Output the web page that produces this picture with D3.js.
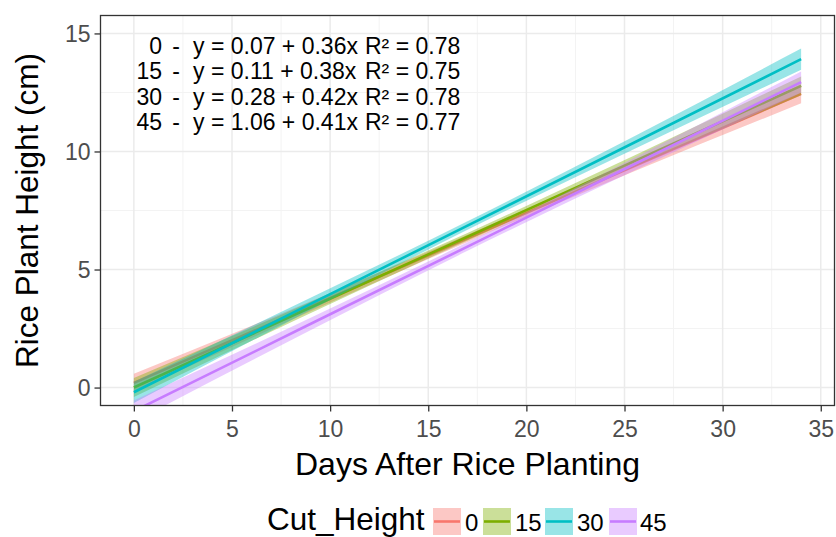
<!DOCTYPE html>
<html>
<head>
<meta charset="utf-8">
<script src="https://cdn.jsdelivr.net/npm/d3@7"></script>
<style>
  html, body { margin: 0; padding: 0; background: #fff; }
  svg { display: block; font-family: "Liberation Sans", Arial, Helvetica, sans-serif; }
</style>
</head>
<body>
<svg id="chart" width="836" height="537"></svg>
<script>
// ---- data ----
const cutHeights = ["0", "15", "30", "45"];
const seriesColors = ["#F8766D", "#7CAE00", "#00BFC4", "#C77CFF"];
const xKnots = [0, 8.5, 17, 25.5, 34];

const fit_0   = [0.20, 3.26, 6.32, 9.38, 12.44];
const lower_0 = [-0.18, 3.04, 6.17, 9.16, 12.04];
const upper_0 = [0.58, 3.48, 6.47, 9.60, 12.84];

const fit_15   = [0.00, 3.20, 6.39, 9.59, 12.78];
const lower_15 = [-0.40, 2.96, 6.23, 9.35, 12.38];
const upper_15 = [0.40, 3.44, 6.55, 9.83, 13.18];

const fit_30   = [-0.20, 3.33, 6.86, 10.38, 13.91];
const lower_30 = [-0.65, 3.06, 6.68, 10.11, 13.46];
const upper_30 = [0.25, 3.60, 7.04, 10.65, 14.36];

const fit_45   = [-1.00, 2.49, 5.97, 9.46, 12.94];
const lower_45 = [-1.45, 2.22, 5.79, 9.19, 12.49];
const upper_45 = [-0.55, 2.76, 6.15, 9.73, 13.39];

const xTicks = [0, 5, 10, 15, 20, 25, 30, 35];
const yTicks = [0, 5, 10, 15];
const xMinor = [2.5, 7.5, 12.5, 17.5, 22.5, 27.5, 32.5];
const yMinor = [2.5, 7.5, 12.5];

const eqGroups = ["0", "15", "30", "45"];
const eqTexts = ["y = 0.07 + 0.36x", "y = 0.11 + 0.38x", "y = 0.28 + 0.42x", "y = 1.06 + 0.41x"];
const r2Texts = ["R\u00B2 = 0.78", "R\u00B2 = 0.75", "R\u00B2 = 0.78", "R\u00B2 = 0.77"];

const xTitle = "Days After Rice Planting";
const yTitle = "Rice Plant Height (cm)";
const legendTitle = "Cut_Height";

// ---- build ----
const fits = [fit_0, fit_15, fit_30, fit_45];
const lowers = [lower_0, lower_15, lower_30, lower_45];
const uppers = [upper_0, upper_15, upper_30, upper_45];
const series = cutHeights.map((c, i) => ({
  key: c, color: seriesColors[i],
  pts: xKnots.map((x, j) => ({ x, y: fits[i][j], lo: lowers[i][j], hi: uppers[i][j] }))
}));

const svg = d3.select("#chart");
const L = 100.5, R = 834.5, T = 15.5, B = 405.5;
const x = d3.scaleLinear().domain([-1.7, 35.7]).range([L, R]);
const y = d3.scaleLinear().domain([-0.76, 15.76]).range([B, T]);

svg.append("defs").append("clipPath").attr("id", "clip")
  .append("rect").attr("x", L).attr("y", T).attr("width", R - L).attr("height", B - T);

// grid
const grid = svg.append("g");
grid.selectAll(".xm").data(xMinor).join("line")
  .attr("x1", d => x(d)).attr("x2", d => x(d)).attr("y1", T).attr("y2", B)
  .attr("stroke", "#F3F3F3").attr("stroke-width", 1);
grid.selectAll(".ym").data(yMinor).join("line")
  .attr("y1", d => y(d)).attr("y2", d => y(d)).attr("x1", L).attr("x2", R)
  .attr("stroke", "#F3F3F3").attr("stroke-width", 1);
grid.selectAll(".xM").data(xTicks).join("line")
  .attr("x1", d => x(d)).attr("x2", d => x(d)).attr("y1", T).attr("y2", B)
  .attr("stroke", "#EBEBEB").attr("stroke-width", 1.5);
grid.selectAll(".yM").data(yTicks).join("line")
  .attr("y1", d => y(d)).attr("y2", d => y(d)).attr("x1", L).attr("x2", R)
  .attr("stroke", "#EBEBEB").attr("stroke-width", 1.5);

// ribbons + lines
const area = d3.area().x(d => x(d.x)).y0(d => y(d.lo)).y1(d => y(d.hi)).curve(d3.curveMonotoneX);
const line = d3.line().x(d => x(d.x)).y(d => y(d.y));
const plot = svg.append("g").attr("clip-path", "url(#clip)");
series.forEach(s => {
  plot.append("path").attr("d", area(s.pts)).attr("fill", s.color).attr("fill-opacity", 0.4);
  plot.append("path").attr("d", line(s.pts)).attr("fill", "none").attr("stroke", s.color).attr("stroke-width", 2.6);
});

// annotations
const ann = svg.append("g").attr("font-size", 23).attr("fill", "#000");
eqGroups.forEach((g, i) => {
  const by = 54 + i * 25.4;
  ann.append("text").attr("x", 162).attr("y", by).attr("text-anchor", "end").text(g);
  ann.append("text").attr("x", 176).attr("y", by).attr("text-anchor", "middle").text("-");
  ann.append("text").attr("x", 193).attr("y", by).text(eqTexts[i]);
  ann.append("text").attr("x", 365).attr("y", by).text(r2Texts[i]);
});

// panel border
svg.append("rect").attr("x", L).attr("y", T).attr("width", R - L).attr("height", B - T)
  .attr("fill", "none").attr("stroke", "#333").attr("stroke-width", 1.3);

// axes
const xAxis = svg.append("g").attr("transform", `translate(0,${B})`)
  .call(d3.axisBottom(x).tickValues(xTicks).tickSize(6).tickPadding(4).tickFormat(d3.format("d")));
const yAxis = svg.append("g").attr("transform", `translate(${L},0)`)
  .call(d3.axisLeft(y).tickValues(yTicks).tickSize(6).tickPadding(4).tickFormat(d3.format("d")));
[xAxis, yAxis].forEach(a => {
  a.select(".domain").remove();
  a.selectAll(".tick line").attr("stroke", "#333").attr("stroke-width", 1.3);
  a.selectAll(".tick text").attr("fill", "#4D4D4D").attr("font-size", 23)
    .attr("font-family", "Liberation Sans, Arial, sans-serif");
});
xAxis.selectAll(".tick text").attr("dy", "0.95em");
yAxis.selectAll(".tick text").attr("dy", "0.36em");

// axis titles
svg.append("text").attr("x", (L + R) / 2).attr("y", 475).attr("text-anchor", "middle")
  .attr("font-size", 32).attr("fill", "#000").text(xTitle);
svg.append("text").attr("transform", `translate(38,${(T + B) / 2}) rotate(-90)`)
  .attr("text-anchor", "middle").attr("font-size", 31.5).attr("fill", "#000").text(yTitle);

// legend
const leg = svg.append("g");
leg.append("text").attr("x", 267).attr("y", 530).attr("font-size", 31.5).attr("fill", "#000").text(legendTitle);
const keyX = [433, 483, 545, 609];
const labX = [465, 515, 577, 640];
series.forEach((s, i) => {
  const kx = keyX[i], ky = 508, kw = 28, kh = 27;
  leg.append("rect").attr("x", kx).attr("y", ky).attr("width", kw).attr("height", kh)
    .attr("fill", s.color).attr("fill-opacity", 0.4);
  leg.append("line").attr("x1", kx + 1).attr("x2", kx + kw - 1).attr("y1", ky + kh / 2).attr("y2", ky + kh / 2)
    .attr("stroke", s.color).attr("stroke-width", 2.6);
  leg.append("text").attr("x", labX[i]).attr("y", 531).attr("font-size", 24).attr("fill", "#000").text(s.key);
});
</script>
</body>
</html>
